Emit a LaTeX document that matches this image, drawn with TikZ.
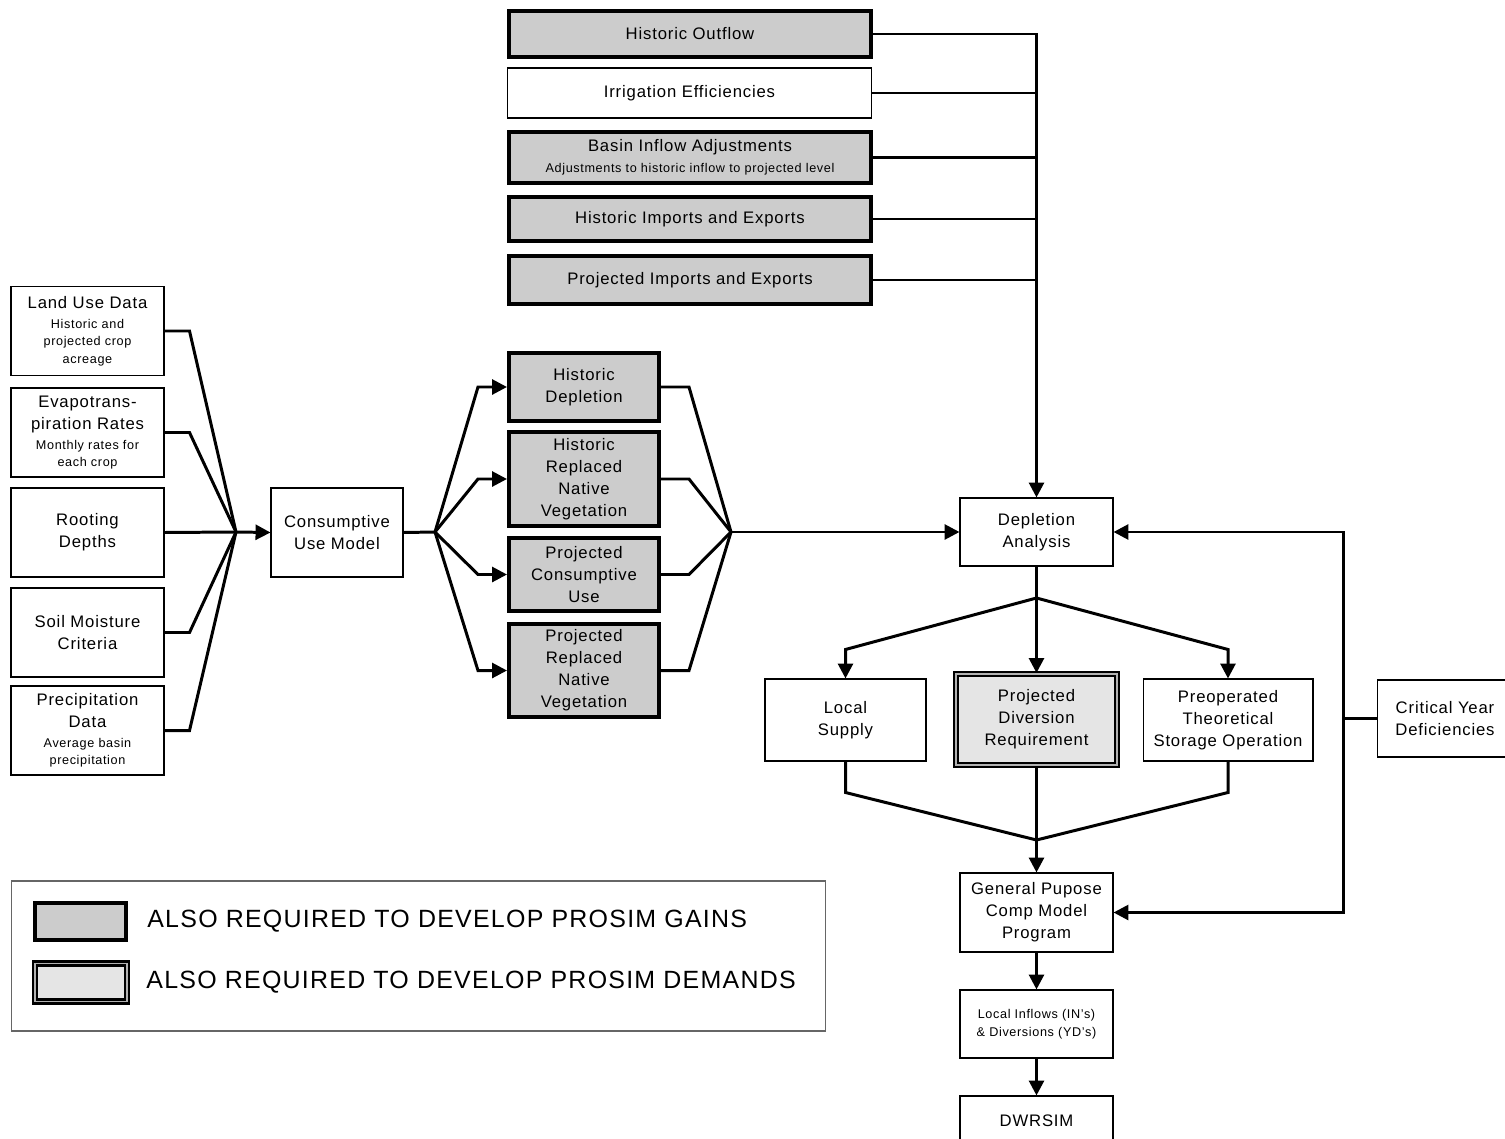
\documentclass[tikz,border=0pt]{standalone}
\usepackage{fontspec}
\setmainfont{Liberation Sans}[LetterSpace=5]
\usetikzlibrary{arrows.meta,positioning}
\newcommand{\smalltxt}{\fontsize{7.2}{9.5}\selectfont}
\tikzset{
  plainbox/.style={draw,line width=0.6pt,fill=white,inner sep=0pt,align=center,font=\fontsize{9.5}{12.5}\selectfont},
  inbox/.style={plainbox,minimum width=3.06cm,minimum height=1.78cm},
  gain/.style={plainbox,line width=2.3pt,fill=black!20},
  demand/.style={plainbox,line width=1.2pt,double=black!30,double distance=1.1pt,fill=black!10},
  conn/.style={line width=1.7pt},
  arr/.style={conn,-{Triangle[length=8.5pt,width=8.5pt]}},
  legtxt/.style={inner sep=0pt,font=\fontsize{14.2}{16}\selectfont}
}
\begin{document}
\begin{tikzpicture}[x=0.02cm,y=-0.02cm]
\useasboundingbox (0,0) rectangle (1505,1139);
\node[inbox] (land) at (87.5,331) {Land Use Data\\[-1.2pt]\smalltxt Historic and\\[-2.6pt]\smalltxt projected crop\\[-2.6pt]\smalltxt acreage};
\node[inbox] (evap) at (87.5,432.5) {Evapotrans-\\piration Rates\\[-1.2pt]\smalltxt Monthly rates for\\[-2.6pt]\smalltxt each crop};
\node[inbox] (root) at (87.5,532.5) {Rooting\\Depths};
\node[inbox] (soil) at (87.5,632.5) {Soil Moisture\\Criteria};
\node[inbox] (prec) at (87.5,730.5) {Precipitation\\Data\\[-1.2pt]\smalltxt Average basin\\[-2.6pt]\smalltxt precipitation};
\node[plainbox,minimum width=2.64cm,minimum height=1.78cm] (cum) at (337,532.5) {Consumptive\\Use Model};

\node[gain,minimum width=3.0cm,minimum height=1.36cm] (hd) at (584,387) {Historic\\Depletion};
\node[gain,minimum width=3.0cm,minimum height=1.88cm] (hrnv) at (584,479) {Historic\\Replaced\\Native\\Vegetation};
\node[gain,minimum width=3.0cm,minimum height=1.46cm] (pcu) at (584,574.5) {Projected\\Consumptive\\Use};
\node[gain,minimum width=3.0cm,minimum height=1.86cm] (prnv) at (584,670.5) {Projected\\Replaced\\Native\\Vegetation};

\node[gain,minimum width=7.24cm,minimum height=0.92cm] (hout) at (690,34) {Historic Outflow};
\node[plainbox,minimum width=7.3cm,minimum height=1.0cm] (irr) at (689.5,93) {Irrigation Efficiencies};
\node[gain,minimum width=7.24cm,minimum height=1.02cm] (bia) at (690,157.5) {Basin Inflow Adjustments\\[-0.6pt]\smalltxt Adjustments to historic inflow to projected level};
\node[gain,minimum width=7.24cm,minimum height=0.88cm] (hie) at (690,219) {Historic Imports and Exports};
\node[gain,minimum width=7.24cm,minimum height=0.96cm] (pie) at (690,280) {Projected Imports and Exports};

\node[plainbox,minimum width=3.06cm,minimum height=1.36cm] (dep) at (1036.5,532) {Depletion\\Analysis};
\node[plainbox,minimum width=3.22cm,minimum height=1.64cm] (local) at (845.5,720) {Local\\Supply};
\node[demand,minimum width=3.22cm,minimum height=1.82cm] (pdr) at (1036.5,719.5) {Projected\\Diversion\\Requirement};
\node[plainbox,minimum width=3.4cm,minimum height=1.64cm] (pre) at (1228,720) {Preoperated\\Theoretical\\Storage Operation};
\node[plainbox,minimum width=2.72cm,minimum height=1.54cm] (crit) at (1445,718.5) {Critical Year\\Deficiencies};
\node[plainbox,minimum width=3.06cm,minimum height=1.58cm] (gp) at (1036.5,912.5) {General Pupose\\Comp Model\\Program};
\node[plainbox,minimum width=3.06cm,minimum height=1.36cm] (inf) at (1036.5,1024) {\smalltxt Local Inflows (IN's)\\[-2.3pt]\smalltxt \& Diversions (YD's)};
\node[plainbox,minimum width=3.06cm,minimum height=1.0cm] (dwr) at (1036.5,1121) {DWRSIM};

\coordinate (hubIn) at (236,532);
\coordinate (hubOut) at (435,532);
\coordinate (hubMid) at (731,532);
\coordinate (split) at (1036.5,598);
\coordinate (merge) at (1036.5,840);

\foreach \n in {land,evap,soil,prec}
  \draw[conn] (\n.east) -- ++(25,0) -- (hubIn);
\draw[conn] (root.east) -- (hubIn);
\draw[arr] (hubIn) -- (cum.west);
\draw[conn] (cum.east) -- (hubOut);
\foreach \n in {hd,hrnv,pcu,prnv} {
  \draw[arr] (hubOut) -- ([xshift=-0.58cm]\n.west) -- (\n.west);
  \draw[conn] (\n.east) -- ([xshift=0.56cm]\n.east) -- (hubMid);
}
\draw[arr] (hubMid) -- (dep.west);

\draw[arr] (hout.east) -| (dep.north);
\foreach \n in {irr,bia,hie,pie}
  \draw[conn] (\n.east) -- (\n.east -| dep.north);

\draw[conn] (dep.south) -- (split);
\draw[arr] (split) -- (pdr.north);
\draw[arr] (split) -- ([yshift=0.58cm]local.north) -- (local.north);
\draw[arr] (split) -- ([yshift=0.58cm]pre.north) -- (pre.north);
\draw[conn] (local.south) -- ([yshift=-0.62cm]local.south) -- (merge);
\draw[conn] (pre.south) -- ([yshift=-0.62cm]pre.south) -- (merge);
\draw[conn] (pdr.south) -- (merge);
\draw[arr] (merge) -- (gp.north);
\draw[arr] (gp.south) -- (inf.north);
\draw[arr] (inf.south) -- (dwr.north);

\draw[arr] (crit.west) -- ++(-33,0) |- (dep.east);
\draw[arr] (crit.west) -- ++(-33,0) |- (gp.east);

\node[draw=black!60,line width=0.6pt,minimum width=16.3cm,minimum height=3.0cm] (leg) at (418.5,956) {};
\node[gain,minimum width=1.82cm,minimum height=0.74cm] (sw1) at (80.5,921.5) {};
\node[demand,minimum width=1.84cm,minimum height=0.76cm] (sw2) at (81,982.5) {};
\node[legtxt,right=0.38cm of sw1] (gtxt) {ALSO REQUIRED TO DEVELOP PROSIM GAINS};
\node[legtxt,right=0.36cm of sw2] (dtxt) {ALSO REQUIRED TO DEVELOP PROSIM DEMANDS};
\end{tikzpicture}
\end{document}
